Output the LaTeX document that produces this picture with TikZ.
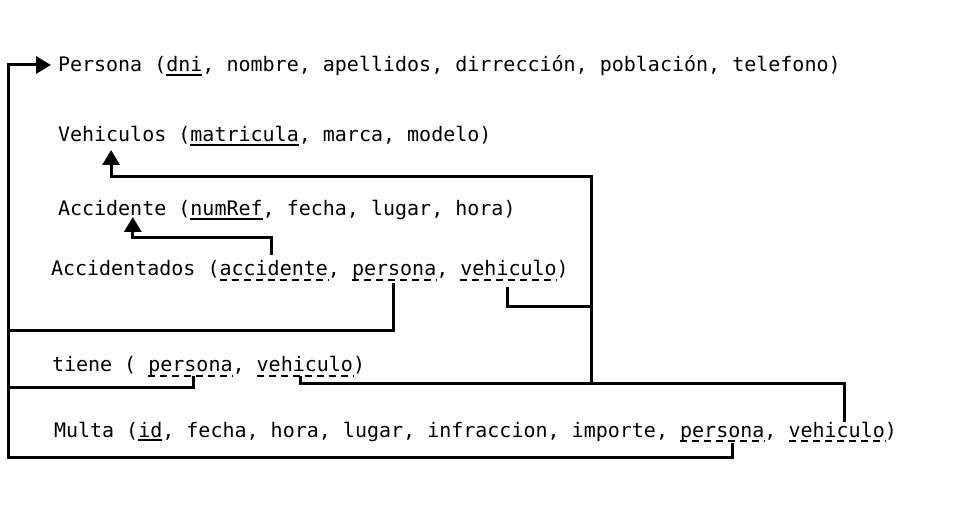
\documentclass[tikz,border=0pt]{standalone}
\usepackage{fontspec}
\newfontfamily\monofam{DejaVu Sans Mono}
\usetikzlibrary{arrows.meta,calc}
\begin{document}
\begin{tikzpicture}[x=1bp,y=-1bp,
  txt/.style={inner sep=0pt,outer sep=0pt,anchor=base west,font=\fontsize{20bp}{24bp}\selectfont\monofam},
  link/.style={line width=3bp,line join=miter,black},
  arrowlink/.style={link,-{Triangle[length=15bp,width=17bp]}},
  pk/.style={line width=1.2bp},
  fk/.style={line width=1.2bp,dash pattern=on 7bp off 5bp}]
\useasboundingbox (0,0) rectangle (956,510);
% Persona
\node[txt] (pers) at (58,72) {Persona};
\node[txt] (pers1) at (pers.base east) {\ (};
\node[txt] (pers-dni) at (pers1.base east) {dni};
\node[txt] (pers2) at (pers-dni.base east) {, nombre, apellidos, dirrección, población, telefono)};
% Vehiculos
\node[txt] (veh) at (58,142) {Vehiculos};
\node[txt] (veh1) at (veh.base east) {\ (};
\node[txt] (veh-mat) at (veh1.base east) {matricula};
\node[txt] (veh2) at (veh-mat.base east) {, marca, modelo)};
% Accidente
\node[txt] (acc) at (58,216) {Accidente};
\node[txt] (acc1) at (acc.base east) {\ (};
\node[txt] (acc-num) at (acc1.base east) {numRef};
\node[txt] (acc2) at (acc-num.base east) {, fecha, lugar, hora)};
% Accidentados
\node[txt] (acd) at (51,276) {Accidentados (};
\node[txt] (acd-acc) at (acd.base east) {accidente};
\node[txt] (acd1) at (acd-acc.base east) {,\ \null};
\node[txt] (acd-per) at (acd1.base east) {persona};
\node[txt] (acd2) at (acd-per.base east) {,\ \null};
\node[txt] (acd-veh) at (acd2.base east) {vehiculo};
\node[txt] (acd3) at (acd-veh.base east) {)};
% tiene
\node[txt] (tie) at (52,372) {tiene (\ \null};
\node[txt] (tie-per) at (tie.base east) {persona};
\node[txt] (tie1) at (tie-per.base east) {,\ \null};
\node[txt] (tie-veh) at (tie1.base east) {vehiculo};
\node[txt] (tie2) at (tie-veh.base east) {)};
% Multa
\node[txt] (mul) at (54,437) {Multa (};
\node[txt] (mul-id) at (mul.base east) {id};
\node[txt] (mul1) at (mul-id.base east) {, fecha, hora, lugar, infraccion, importe,\ \null};
\node[txt] (mul-per) at (mul1.base east) {persona};
\node[txt] (mul2) at (mul-per.base east) {,\ \null};
\node[txt] (mul-veh) at (mul2.base east) {vehiculo};
\node[txt] (mul3) at (mul-veh.base east) {)};
% underlines
\foreach \n in {pers-dni,veh-mat,acc-num,mul-id}
  \draw[pk] ([yshift=-3bp]\n.base west) -- ([yshift=-3bp]\n.base east);
\foreach \n in {acd-acc,acd-per,acd-veh,tie-per,tie-veh,mul-per,mul-veh}
  \draw[fk] ([yshift=-4bp]\n.base west) -- ([yshift=-4bp]\n.base east);
% connector points
\coordinate (pers-in) at ([shift={(-7,-7)}]pers.base west);
\coordinate (mp) at ($(mul-per.base west)!0.62!(mul-per.base east)+(0,6)$);
\coordinate (bot) at (8,457);
\coordinate (ap) at ($(acd-per.base west)!0.49!(acd-per.base east)+(0,7)$);
\coordinate (apc) at (8,331);
\coordinate (tp) at ($(tie-per.base west)!0.54!(tie-per.base east)+(0,4)$);
\coordinate (tpc) at (8,387);
\coordinate (vin) at ($(veh.base west)!0.49!(veh.base east)+(0,8)$);
\coordinate (av) at ($(acd-veh.base west)!0.49!(acd-veh.base east)+(0,11)$);
\coordinate (avc) at (591,307);
\coordinate (top) at (591,177);
\coordinate (mid) at (591,383);
\coordinate (tv) at ($(tie-veh.base west)!0.45!(tie-veh.base east)+(0,4)$);
\coordinate (mv) at ($(mul-veh.base west)!0.58!(mul-veh.base east)+(0,-15)$);
\coordinate (ain) at ($(acc.base west)!0.69!(acc.base east)+(0,1)$);
\coordinate (aa) at ($(acd-acc.base west)!0.48!(acd-acc.base east)+(0,-21)$);
\coordinate (abar) at (0,238);
% connectors
\draw[arrowlink] (mp) |- (bot) -- (bot |- pers-in) -- (pers-in);
\draw[link] (ap) |- (apc);
\draw[link] (tp) |- (tpc);
\draw[arrowlink] (av) |- (avc) -- (top) -| (vin);
\draw[link] (avc) -- (mid);
\draw[link] (tv) |- (mid) -| (mv);
\draw[arrowlink] (aa) -- (aa |- abar) -| (ain);
\end{tikzpicture}
\end{document}
